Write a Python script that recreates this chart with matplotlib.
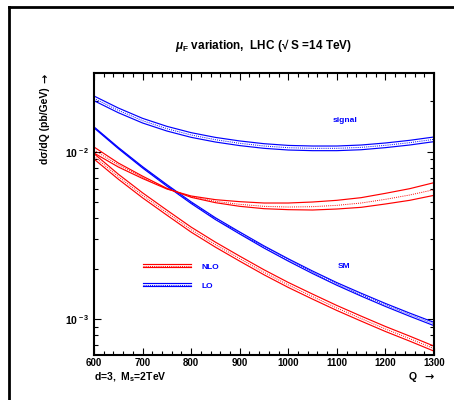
import numpy as np
import matplotlib
matplotlib.use("Agg")
import matplotlib.pyplot as plt
from matplotlib.lines import Line2D
from matplotlib.legend_handler import HandlerBase
from matplotlib.ticker import MultipleLocator, LogLocator, FuncFormatter, NullFormatter

plt.rcParams['font.family'] = ['Liberation Sans', 'DejaVu Sans']
plt.rcParams['font.weight'] = 'bold'
plt.rcParams['mathtext.fontset'] = 'custom'
plt.rcParams['mathtext.rm'] = 'Liberation Sans'
plt.rcParams['mathtext.it'] = 'Liberation Sans:italic'
plt.rcParams['mathtext.bf'] = 'Liberation Sans:bold'

# invariant mass Q [GeV]
Q = [600, 650, 700, 750, 800, 850, 900, 950, 1000, 1050, 1100, 1150, 1200, 1250, 1300]

# signal, LO  (mu_F = Q/2, Q, 2Q)
sig_lo_half = [0.02151, 0.01824, 0.01582, 0.01417, 0.01299, 0.01217, 0.01159, 0.01116,
               0.01090, 0.01081, 0.01081, 0.01096, 0.01127, 0.01169, 0.01224]
sig_lo_mid = [0.02083, 0.01766, 0.01532, 0.01372, 0.01258, 0.01179, 0.01122, 0.01081,
              0.01056, 0.01047, 0.01047, 0.01061, 0.01091, 0.01132, 0.01185]
sig_lo_two = [0.02017, 0.01710, 0.01484, 0.01329, 0.01218, 0.01142, 0.01087, 0.01047,
              0.01023, 0.01014, 0.01014, 0.01027, 0.01057, 0.01096, 0.01148]

# signal, NLO
sig_nlo_half = [0.010664, 0.008557, 0.007139, 0.006037, 0.005335, 0.004956, 0.004713, 0.004563,
                0.004501, 0.004480, 0.004542, 0.004648, 0.004867, 0.005119, 0.005483]
sig_nlo_mid = [0.010232, 0.008326, 0.007025, 0.006009, 0.005383, 0.005047, 0.004844, 0.004712,
               0.004668, 0.004690, 0.004777, 0.004933, 0.005189, 0.005508, 0.005926]
sig_nlo_two = [0.009818, 0.008099, 0.006912, 0.005982, 0.005434, 0.005166, 0.005025, 0.004933,
               0.004933, 0.005002, 0.005119, 0.005310, 0.005636, 0.006009, 0.006527]

# SM, LO
sm_lo_half = [0.014066, 0.010604, 0.008134, 0.006356, 0.005013, 0.004028, 0.003310, 0.002734,
              0.002289, 0.001934, 0.001649, 0.001425, 0.001238, 0.001084, 0.0009546]
sm_lo_mid = [0.01397, 0.01052, 0.008060, 0.006291, 0.004956, 0.003977, 0.003265, 0.002694,
             0.002253, 0.001901, 0.001619, 0.001397, 0.001213, 0.001061, 0.000933]
sm_lo_two = [0.013874, 0.010437, 0.007987, 0.006226, 0.004900, 0.003927, 0.003221, 0.002654,
             0.002217, 0.001868, 0.001590, 0.001370, 0.001188, 0.001038, 0.0009118]

# SM, NLO
sm_nlo_half = [0.009735, 0.007338, 0.005675, 0.004472, 0.003540, 0.002878, 0.002374, 0.001968,
               0.001653, 0.001408, 0.001204, 0.001040, 0.0009018, 0.0007896, 0.0006881]
sm_nlo_mid = [0.009379, 0.007090, 0.005483, 0.004321, 0.003420, 0.002781, 0.002294, 0.001901,
              0.001597, 0.001360, 0.001163, 0.001005, 0.0008713, 0.0007629, 0.0006648]
sm_nlo_two = [0.009036, 0.006850, 0.005298, 0.004175, 0.003304, 0.002687, 0.002216, 0.001837,
              0.001543, 0.001314, 0.001124, 0.000971, 0.0008418, 0.0007371, 0.0006423]

BLUE = '#0000ff'
RED = '#ff0000'
LW = 0.85
DOT = (0, (1, 1.2))

W, H = 454, 400
fig = plt.figure(figsize=(W / 100, H / 100), dpi=100)
ax = fig.add_axes([94 / W, 1 - 355 / H, 340 / W, (355 - 72.7) / H])


def band(lo, mid, hi, color):
    ax.plot(Q, lo, color=color, lw=LW)
    ax.plot(Q, hi, color=color, lw=LW)
    ax.plot(Q, mid, color=color, lw=0.7, ls=DOT)


band(sig_lo_half, sig_lo_mid, sig_lo_two, BLUE)
band(sm_lo_half, sm_lo_mid, sm_lo_two, BLUE)
band(sig_nlo_half, sig_nlo_mid, sig_nlo_two, RED)
band(sm_nlo_half, sm_nlo_mid, sm_nlo_two, RED)

ax.set_yscale('log')
ax.set_xlim(600, 1300)
ax.set_ylim(6.09e-4, 2.965e-2)

ax.xaxis.set_major_locator(MultipleLocator(100))
ax.xaxis.set_minor_locator(MultipleLocator(20))
ax.yaxis.set_major_locator(LogLocator(base=10))
ax.yaxis.set_minor_locator(LogLocator(base=10, subs=np.arange(2, 10)))
ax.yaxis.set_minor_formatter(NullFormatter())


def pow_fmt(v, pos):
    e = int(round(np.log10(v)))
    return '10' + r'$^{\ \mathbf{%d}}$' % e


ax.yaxis.set_major_formatter(FuncFormatter(pow_fmt))
ax.tick_params(which='both', direction='in', top=True, right=True, width=0.8)
ax.tick_params(which='major', length=5)
ax.tick_params(which='minor', length=3)
ax.tick_params(axis='x', labelsize=7, pad=2.5)
ax.tick_params(axis='y', labelsize=7.5, pad=4)
for lab in ax.get_xticklabels() + ax.get_yticklabels():
    lab.set_fontweight('bold')
for s in ax.spines.values():
    s.set_linewidth(1.5)

ax.text(1117, 0.01532, 'signal', color=BLUE, fontsize=6, fontweight='bold', ha='center', va='center')
ax.text(1114, 0.002054, 'SM', color=BLUE, fontsize=6, fontweight='bold', ha='center', va='center')


class BandHandler(HandlerBase):
    def create_artists(self, legend, orig_handle, xdescent, ydescent, width, height, fontsize, trans):
        c = orig_handle.get_color()
        y0 = height / 2 - ydescent
        out = []
        for dy, ls, lw in [(-1.2, '-', LW), (0, DOT, 0.7), (1.2, '-', LW)]:
            out.append(Line2D([-xdescent, width - xdescent], [y0 + dy, y0 + dy],
                              color=c, lw=lw, ls=ls, transform=trans))
        return out


handles = [Line2D([], [], color=RED), Line2D([], [], color=BLUE)]
ax.legend(handles, ['NLO', 'LO'], handler_map={Line2D: BandHandler()},
          loc='upper left', bbox_to_anchor=(143 / W, 1 - 262 / H), bbox_transform=fig.transFigure,
          frameon=False, borderpad=0, borderaxespad=0, handlelength=5.76, handleheight=1,
          handletextpad=1.2, labelspacing=1.24, labelcolor=BLUE,
          prop={'weight': 'bold', 'size': 6})

fig.text(264 / W, 1 - 46 / H, r'$\mu_{\rm F}$ variation,  LHC (√ S =14 TeV)',
         ha='center', va='center', fontsize=8.5, fontweight='bold')

# axis titles, arrows drawn in DejaVu Sans
fig.text(45 / W, 1 - 87 / H, 'dσ/dQ (pb/GeV)', rotation=90, ha='center', va='top',
         fontsize=7.5, fontweight='bold')
fig.text(45 / W, 1 - 78 / H, '→', rotation=90, ha='center', va='center',
         fontsize=8, family='DejaVu Sans')
fig.text(94 / W, 1 - 377 / H, r'd=3,  M$_{\mathbf{s}}$=2TeV', ha='left', va='center',
         fontsize=7.5, fontweight='bold')
fig.text(417 / W, 1 - 377 / H, 'Q', ha='right', va='center', fontsize=7.5, fontweight='bold')
fig.text(434 / W, 1 - 377 / H, '→', ha='right', va='center', fontsize=8, family='DejaVu Sans')

# page frame
fig.add_artist(Line2D([8.7 / W, 8.7 / W], [0, 1 - 6.5 / H], color='black', lw=2,
                      transform=fig.transFigure))
fig.add_artist(Line2D([8.7 / W, 1], [1 - 6.5 / H, 1 - 6.5 / H], color='black', lw=2,
                      transform=fig.transFigure))

fig.savefig('out.png', dpi=100)
